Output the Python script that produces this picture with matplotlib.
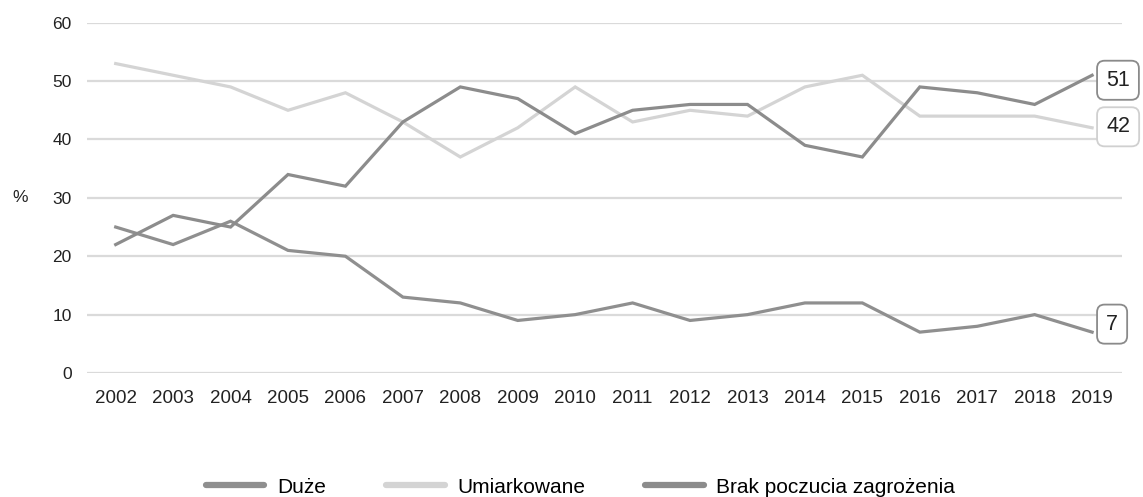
import numpy as np
import matplotlib
matplotlib.use('Agg')
import matplotlib.pyplot as plt
from matplotlib.lines import Line2D

plt.rcParams['font.family'] = ['Liberation Sans', 'DejaVu Sans']

years = list(range(2002, 2020))
duze = [25, 22, 26, 21, 20, 13, 12, 9, 10, 12, 9, 10, 12, 12, 7, 8, 10, 7]
umiarkowane = [53, 51, 49, 45, 48, 43, 37, 42, 49, 43, 45, 44, 49, 51, 44, 44, 44, 42]
brak = [22, 27, 25, 34, 32, 43, 49, 47, 41, 45, 46, 46, 39, 37, 49, 48, 46, 51]

names = ['Duże', 'Umiarkowane', 'Brak poczucia zagrożenia']
colors = ['#8f8f8f', '#d4d4d4', '#8c8c8c']
label_offsets = [8, 1, -5]  # pixels, to keep end labels apart

fig = plt.figure(figsize=(11.43, 4.97), dpi=100)
ax = fig.add_axes([0.0761, 0.2495, 0.9055, 0.7048])

ax.set_xlim(2001.5, 2019.52)
ax.set_ylim(0, 60)
ax.set_yticks(np.arange(0, 61, 10))
ax.set_xticks(years)
ax.grid(axis='y', color='#dadada', linewidth=1.6)
ax.set_axisbelow(True)
for s in ax.spines.values():
    s.set_visible(False)
ax.tick_params(axis='both', length=0, colors='#222222')
ax.tick_params(axis='y', pad=11, labelsize=12.5)
ax.tick_params(axis='x', pad=12, labelsize=13.5)

series = [duze, umiarkowane, brak]
for vals, c in zip(series, colors):
    ax.plot(years, vals, color=c, linewidth=2.3, solid_joinstyle='miter')

# end labels
edge_colors = ['#8a8a8a', '#d0d0d0', '#8a8a8a']
for vals, ec, off in zip(series, edge_colors, label_offsets):
    ax.annotate(str(vals[-1]), xy=(years[-1], vals[-1]),
                xytext=(14, off), textcoords='offset pixels',
                ha='left', va='center', fontsize=15.5, color='#222222',
                annotation_clip=False,
                bbox=dict(boxstyle='round,pad=0.42,rounding_size=0.35',
                          fc='white', ec=ec, lw=1.3))

ax.set_ylabel('%', rotation=0, fontsize=12.5, color='#222222', va='center', ha='center')
ax.yaxis.set_label_coords(-0.0647, 0.5)

handles = [Line2D([0], [0], color=c, lw=4.5, solid_capstyle='round') for c in colors]
fig.legend(handles, names, loc='center', bbox_to_anchor=(0.508, 0.02), ncol=3,
           frameon=False, fontsize=15, handlelength=2.8, handletextpad=0.6,
           columnspacing=2.9)

fig.savefig('out.png', dpi=100)
